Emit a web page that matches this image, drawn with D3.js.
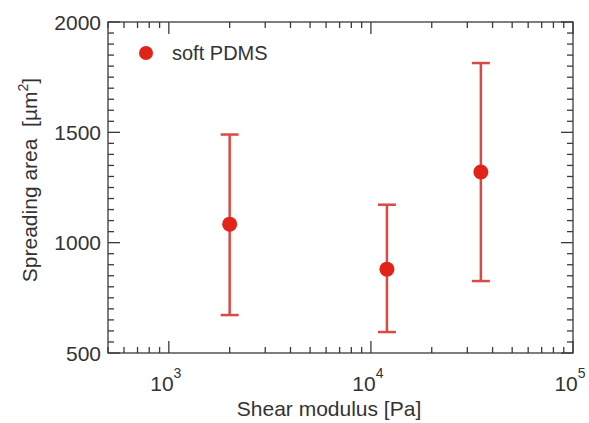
<!DOCTYPE html>
<html><head><meta charset="utf-8">
<script src="https://cdn.jsdelivr.net/npm/d3@7"></script>
<style>body{margin:0;background:#fff}svg{display:block}</style>
</head><body>
<svg id="c" width="589" height="423"></svg>
<script>
const seriesName = "soft PDMS";
const modulus = [2000, 12000, 35000];
const area = [1084, 880, 1320];
const areaLow = [672, 595, 826];
const areaHigh = [1490, 1172, 1814];
const xMajorTicks = [1e3, 1e4, 1e5];
const yMajorTicks = [500, 1000, 1500, 2000];

const W = 589, H = 423;
const m = {l:108, r:16, t:22, b:70};
const svg = d3.select("#c");
const font = "Liberation Sans, Arial, Helvetica, sans-serif";
const red = "#e2231a", barRed = "#d94a44", axisCol = "#3a3a3a";

const x = d3.scaleLog().domain([500, 1e5]).range([m.l, W - m.r]);
const y = d3.scaleLinear().domain([500, 2000]).range([H - m.b, m.t]);

// minor ticks
const xMinor = [];
for (let e = 2; e <= 4; e++) for (let k = 1; k <= 9; k++) {
  const v = k * Math.pow(10, e);
  if (v >= 500 && v <= 1e5 && !xMajorTicks.includes(v)) xMinor.push(v);
}
const yMinor = d3.range(550, 2000, 50).filter(v => v % 500 !== 0);

const g = svg.append("g");
const maj = 12, mn = 6;
function axes() {
  const bottom = H - m.b, top = m.t, left = m.l, right = W - m.r;
  const ax = g.append("g").attr("stroke", axisCol).attr("stroke-width", 1.3);
  ax.append("rect").attr("x", left).attr("y", top).attr("width", right-left).attr("height", bottom-top).attr("fill","none");
  xMajorTicks.forEach(v => {
    ax.append("line").attr("x1", x(v)).attr("x2", x(v)).attr("y1", bottom).attr("y2", bottom - maj);
    ax.append("line").attr("x1", x(v)).attr("x2", x(v)).attr("y1", top).attr("y2", top + maj);
  });
  xMinor.forEach(v => {
    ax.append("line").attr("x1", x(v)).attr("x2", x(v)).attr("y1", bottom).attr("y2", bottom - mn);
    ax.append("line").attr("x1", x(v)).attr("x2", x(v)).attr("y1", top).attr("y2", top + mn);
  });
  yMajorTicks.forEach(v => {
    ax.append("line").attr("y1", y(v)).attr("y2", y(v)).attr("x1", left).attr("x2", left + maj);
    ax.append("line").attr("y1", y(v)).attr("y2", y(v)).attr("x1", right).attr("x2", right - maj);
  });
  yMinor.forEach(v => {
    ax.append("line").attr("y1", y(v)).attr("y2", y(v)).attr("x1", left).attr("x2", left + mn);
    ax.append("line").attr("y1", y(v)).attr("y2", y(v)).attr("x1", right).attr("x2", right - mn);
  });
  // y tick labels
  yMajorTicks.forEach(v => {
    g.append("text").attr("x", left - 7).attr("y", y(v)).attr("dy", "0.36em")
      .attr("text-anchor", "end").attr("font-family", font).attr("font-size", 21)
      .attr("fill", "#333").text(v);
  });
  // x tick labels
  xMajorTicks.forEach(v => {
    const t = g.append("text").attr("x", x(v) - 3).attr("y", bottom + 38)
      .attr("text-anchor", "middle").attr("font-family", font).attr("font-size", 21).attr("fill", "#333");
    t.append("tspan").text("10");
    t.append("tspan").attr("dy", -13).attr("font-size", 14).text(Math.round(Math.log10(v)));
  });
}
axes();

// error bars
const cap = 9;
const eb = g.append("g").attr("stroke", barRed).attr("stroke-width", 2.5);
modulus.forEach((mv, i) => {
  eb.append("line").attr("x1", x(mv)).attr("x2", x(mv)).attr("y1", y(areaLow[i])).attr("y2", y(areaHigh[i]));
  eb.append("line").attr("x1", x(mv)-cap).attr("x2", x(mv)+cap).attr("y1", y(areaLow[i])).attr("y2", y(areaLow[i]));
  eb.append("line").attr("x1", x(mv)-cap).attr("x2", x(mv)+cap).attr("y1", y(areaHigh[i])).attr("y2", y(areaHigh[i]));
});
g.selectAll("circle.pt").data(modulus).join("circle").attr("class","pt")
  .attr("cx", d => x(d)).attr("cy", (d,i) => y(area[i])).attr("r", 7.5).attr("fill", red);

// legend
g.append("circle").attr("cx", 146).attr("cy", 53).attr("r", 7).attr("fill", red);
g.append("text").attr("x", 172).attr("y", 60).attr("font-family", font).attr("font-size", 20)
  .attr("fill", "#333").text(seriesName);

// axis titles
g.append("text").attr("x", 329).attr("y", 416).attr("text-anchor", "middle")
  .attr("font-family", font).attr("font-size", 21).attr("fill", "#333").text("Shear modulus [Pa]");
const yl = g.append("text").attr("transform", `translate(37, 180) rotate(-90)`)
  .attr("text-anchor", "middle").attr("font-family", font).attr("font-size", 21).attr("fill", "#333")
  .attr("xml:space", "preserve").style("white-space", "pre");
yl.append("tspan").text("Spreading area  [\u00b5m");
yl.append("tspan").attr("dy", -9).attr("font-size", 14).text("2");
yl.append("tspan").attr("dy", 9).text("]");
</script>
</body></html>
